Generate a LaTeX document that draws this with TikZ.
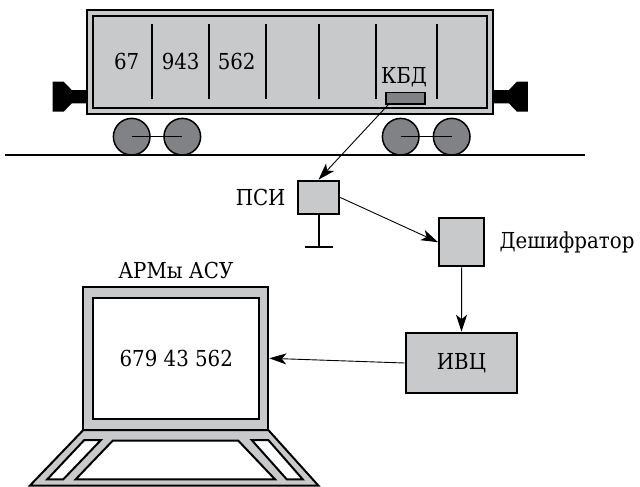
\documentclass[tikz,border=0pt]{standalone}
\usepackage{fontspec}
\setmainfont{DejaVu Serif}[FakeStretch = 0.9]
\usetikzlibrary{arrows.meta,positioning}
\definecolor{lightgr}{HTML}{C8C9CB}
\definecolor{darkgr}{HTML}{808285}

\begin{document}
\begin{tikzpicture}[x = 1pt, y = -1pt,
                    box/.style = {shape = rectangle,
                                  draw = black,
                                  line width = 2pt,
                                  fill = lightgr,
                                  inner sep = 0pt,
                                  font = \fontsize{22}{26}\selectfont},
                    lbl/.style = {inner sep = 0pt,
                                  font = \fontsize{22}{26}\selectfont},
                    arr/.style = {-{Stealth[length = 17pt, width = 11pt, inset = 4.5pt]},
                                  line width = 0.9pt},
                    thick line/.style = {line width = 2pt}]
		\useasboundingbox (0,0) rectangle (640,487);
		% couplers on both ends
		\foreach \s in {1,-1} {
			\begin{scope}[shift = {(290.3,0)}, xscale = \s]
				\fill (-237.6,81.7) -- (-226.6,81.7) -- (-218.6,90) -- (-202,90)
				      -- (-202,103.3) -- (-218.6,103.3) -- (-226.6,111.7) -- (-237.6,111.7) -- cycle;
			\end{scope}
		}
		% wagon body
		\draw[thick line, fill = lightgr] (87.3,10) rectangle (493.3,114);
		\draw[thick line] (93.3,15.7) rectangle (487.3,107.5);
		\foreach \x in {152.3,209.3,266,319,375.7,437.3}
			\draw[thick line] (\x,24.3) -- (\x,99.3);
		\node[lbl] (num1) at (126.7,61.7) {67};
		\node[lbl] (num2) at (180.7,61.7) {943};
		\node[lbl] (num3) at (236.7,61.7) {562};
		\node[lbl] (kbdlabel) at (404,77.7) {КБД};
		\node[box, fill = darkgr, line width = 1.5pt,
		      minimum width = 39pt, minimum height = 11.3pt] (kbd) at (405.5,98.3) {};
		% wheels and axles
		\foreach \x in {131.7,182.3,400.7,451.7}
			\draw[line width = 1.5pt, fill = darkgr] (\x,136.7) circle (18.3pt);
		\draw[line width = 1.5pt] (131.7,136.7) -- (182.3,136.7);
		\draw[line width = 1.5pt] (400.7,136.7) -- (451.7,136.7);
		% rail
		\draw[thick line] (5,155) -- (585,155);
		% reader on its post
		\node[box, minimum width = 41.6pt, minimum height = 33.6pt] (psi) at (318.5,197.5) {};
		\node[lbl, left = 11pt of psi] (psilabel) {ПСИ};
		\draw[thick line] (psi.south) -- ++(0,31.7) coordinate (foot);
		\draw[thick line] ([xshift = -14pt]foot) -- ([xshift = 14pt]foot);
		% decoder
		\node[box, minimum width = 45.3pt, minimum height = 47.7pt] (desh) at (461.7,242.2) {};
		\node[lbl, right = 14pt of desh] (deshlabel) {Дешифратор};
		% computing centre
		\node[box, minimum width = 111.6pt, minimum height = 60.6pt] (ivc) at (461.5,363) {ИВЦ};
		% workstation
		\node[box, minimum width = 185pt, minimum height = 143.3pt] (screen) at (175.8,358.3) {};
		\node[box, fill = white, minimum width = 166pt, minimum height = 121.3pt] (display) at (176.3,358.3) {679 43 562};
		\node[lbl] (armlabel) at (175.8,270) {АРМы АСУ};
		\draw[thick line, fill = lightgr] (83.3,430) -- (268.3,430) -- (318.3,485.5) -- (30,485.5) -- cycle;
		\draw[thick line, fill = white] (84.3,440) -- (101,440) -- (63.3,479.3) -- (47.3,479.3) -- cycle;
		\draw[thick line, fill = white] (112.7,440.7) -- (238.3,440.7) -- (275,479.3) -- (75.7,479.3) -- cycle;
		\draw[thick line, fill = white] (251.7,440) -- (268.3,440) -- (302.7,479.3) -- (286.7,479.3) -- cycle;
		% data flow
		\draw[arr] ([xshift = 3pt]kbd.south west) -- (psi.north);
		\draw[arr] (psi.east) -- (desh.west);
		\draw[arr] (desh.south) -- (ivc.north);
		\draw[arr] (ivc.west) -- (screen.east);
	\end{tikzpicture}
\end{document}
